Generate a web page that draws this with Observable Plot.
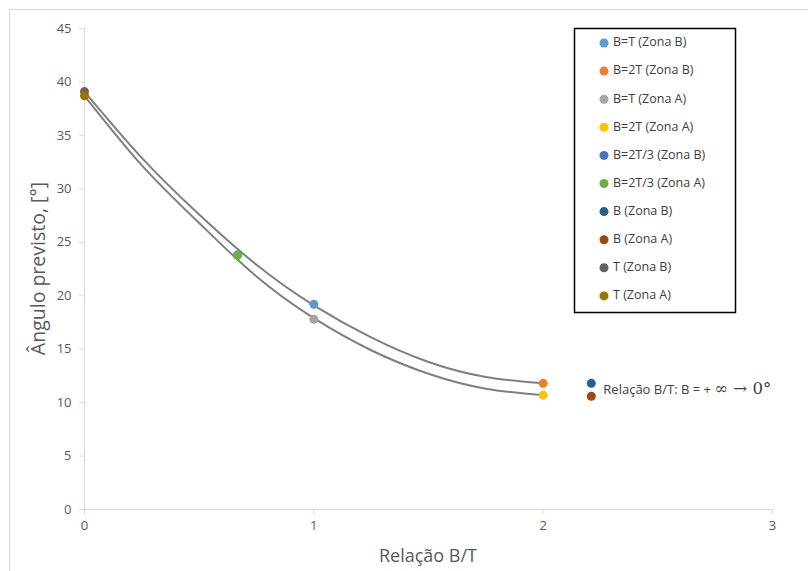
<!DOCTYPE html>
<html>
<head>
<meta charset="utf-8">
<script src="https://cdn.jsdelivr.net/npm/d3@7"></script>
<script src="https://cdn.jsdelivr.net/npm/@observablehq/plot@0.6"></script>
<style>
  html, body { margin: 0; padding: 0; background: #fff; }
  #chart { position: relative; width: 808px; height: 571px; overflow: hidden; }
  svg { font-family: "Open Sans", sans-serif; }
</style>
</head>
<body>
<div id="chart"></div>
<script>
// ---- data ----
const seriesNames = [
  "B=T (Zona B)", "B=2T (Zona B)", "B=T (Zona A)", "B=2T (Zona A)",
  "B=2T/3 (Zona B)", "B=2T/3 (Zona A)", "B (Zona B)", "B (Zona A)",
  "T (Zona B)", "T (Zona A)"
];
const seriesColors = [
  "#5B9BD5", "#ED7D31", "#A5A5A5", "#FFC000",
  "#4472C4", "#70AD47", "#255E91", "#9E480E",
  "#636363", "#997300"
];
const ratioBT = [1, 2, 1, 2, 0.667, 0.667, 2.21, 2.21, 0, 0];
const angle   = [19.2, 11.8, 17.8, 10.7, 23.8, 23.8, 11.8, 10.6, 39.1, 38.7];

// trendlines
const trendX     = [0, 0.25, 0.5, 0.75, 1, 1.25, 1.5, 1.75, 2];
const trendZonaB = [39.1, 32.9, 27.6, 22.9, 19.1, 16.1, 13.8, 12.4, 11.8];
const trendZonaA = [38.7, 32.2, 26.8, 21.8, 17.9, 14.9, 12.7, 11.3, 10.7];

const xTicks = [0, 1, 2, 3];
const yTicks = [0, 5, 10, 15, 20, 25, 30, 35, 40, 45];
const xTitle = "Relação B/T";
const yTitle = "Ângulo previsto, [°]";
const annotText = "Relação B/T: B = + ";
const annotMath = "∞ → 0°";

// ---- build ----
const points = seriesNames.map((s, i) => ({s, x: ratioBT[i], y: angle[i], c: seriesColors[i]}));
const trendB = trendX.map((x, i) => ({x, y: trendZonaB[i]}));
const trendA = trendX.map((x, i) => ({x, y: trendZonaA[i]}));
const annot = [{x: ratioBT[6], y: (angle[6] + angle[7]) / 2}];

const W = 808, H = 571;
const ml = 84, mr = 36, mt = 28, mb = 62;
const axisColor = "#D9D9D9", textColor = "#595959";

const plot = Plot.plot({
  width: W, height: H,
  marginLeft: ml, marginRight: mr, marginTop: mt, marginBottom: mb,
  style: {fontFamily: "Open Sans, sans-serif", background: "transparent"},
  x: {domain: [0, 3]},
  y: {domain: [0, 45]},
  marks: [
    Plot.ruleX([0], {stroke: axisColor, strokeWidth: 1}),
    Plot.ruleY([0], {stroke: axisColor, strokeWidth: 1}),
    Plot.axisY(yTicks, {tickSize: 5, tickPadding: 8, stroke: axisColor, fill: textColor, fontSize: 13, label: null, tickFormat: d => String(d)}),
    Plot.axisX(xTicks, {tickSize: 5, tickPadding: 6, stroke: axisColor, fill: textColor, fontSize: 13, label: null, tickFormat: d => String(d)}),
    Plot.line(trendB, {x: "x", y: "y", curve: "natural", stroke: "#7F7F7F", strokeWidth: 2}),
    Plot.line(trendA, {x: "x", y: "y", curve: "natural", stroke: "#7F7F7F", strokeWidth: 2}),
    Plot.dot(points, {x: "x", y: "y", fill: "c", r: 4.5, stroke: null}),
    Plot.text(annot, {x: "x", y: "y", text: () => annotText, dx: 12, textAnchor: "start", fontSize: 13, fill: "#404040", className: "annot"})
  ]
});
document.getElementById("chart").appendChild(plot);

// ---- decorations: outer border, titles, legend, math text ----
const svg = d3.select(plot);
svg.insert("rect", ":first-child")
  .attr("x", 9.5).attr("y", 9.5).attr("width", W + 20).attr("height", H + 20)
  .attr("fill", "none").attr("stroke", axisColor);

svg.append("text")
  .attr("x", (ml + W - mr) / 2).attr("y", 557)
  .attr("text-anchor", "middle").attr("dominant-baseline", "middle")
  .attr("font-size", 18).attr("fill", textColor).text(xTitle);
svg.append("text")
  .attr("transform", `translate(40,${(mt + H - mb) / 2}) rotate(-90)`)
  .attr("text-anchor", "middle").attr("dominant-baseline", "middle")
  .attr("font-size", 19.5).attr("fill", textColor).text(yTitle);

// math part of annotation
svg.selectAll(".annot text").each(function() {
  d3.select(this).append("tspan")
    .attr("font-family", "DejaVu Serif, Liberation Serif, serif")
    .attr("font-size", 16.5)
    .text(annotMath);
});

// legend
const lg = svg.append("g").attr("text-anchor", "start");
const lx = 574, ly = 28, lw = 161, lh = 284, step = 28.1;
lg.append("rect").attr("x", lx + 0.5).attr("y", ly + 0.5).attr("width", lw).attr("height", lh)
  .attr("fill", "#fff").attr("stroke", "#000").attr("stroke-width", 1.5);
seriesNames.forEach((s, i) => {
  const cy = ly + 15 + i * step;
  lg.append("circle").attr("cx", lx + 30).attr("cy", cy).attr("r", 4.5).attr("fill", seriesColors[i]);
  lg.append("text").attr("x", lx + 39).attr("y", cy).attr("text-anchor", "start")
    .attr("dominant-baseline", "middle")
    .attr("font-size", 12.5).attr("fill", "#404040").text(s);
});
</script>
</body>
</html>
